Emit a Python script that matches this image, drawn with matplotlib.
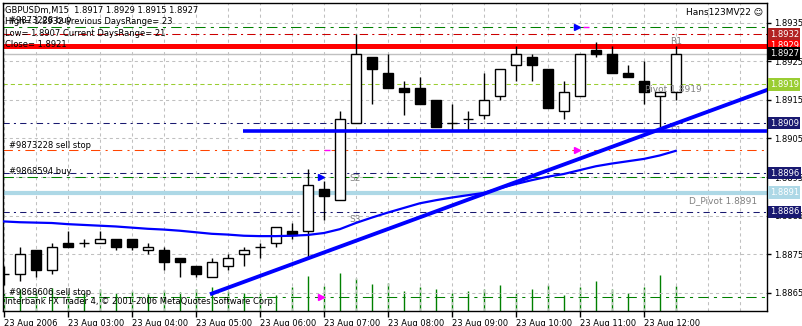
import matplotlib
matplotlib.use('Agg')
import matplotlib.pyplot as plt
from matplotlib.ticker import FormatStrFormatter

plt.rcParams['font.family'] = ['DejaVu Sans']
plt.rcParams['font.size'] = 6

# --- GBPUSDm M15 bars, 23 Aug 2006 02:00 .. 12:30 ---
opens = [1.8870, 1.8870, 1.8876, 1.8871, 1.8878, 1.8878, 1.8878, 1.8879, 1.8879, 1.8876,
         1.8876, 1.8874, 1.8872, 1.8869, 1.8872, 1.8875, 1.8877, 1.8878, 1.8881, 1.8881,
         1.8892, 1.8889, 1.8909, 1.8926, 1.8922, 1.8918, 1.8918, 1.8915, 1.8909, 1.8910,
         1.8911, 1.8916, 1.8924, 1.8926, 1.8923, 1.8912, 1.8916, 1.8928, 1.8927, 1.8922,
         1.8920, 1.8916, 1.8917]
highs = [1.8872, 1.8877, 1.8876, 1.8878, 1.8881, 1.8879, 1.8881, 1.8879, 1.8879, 1.8878,
         1.8877, 1.8874, 1.8872, 1.8874, 1.8875, 1.8877, 1.8878, 1.8882, 1.8883, 1.8897,
         1.8894, 1.8912, 1.8932, 1.8926, 1.8927, 1.8920, 1.8921, 1.8915, 1.8914, 1.8912,
         1.8922, 1.8923, 1.8929, 1.8927, 1.8923, 1.8920, 1.8927, 1.8930, 1.8929, 1.8924,
         1.8925, 1.8917, 1.8929]
lows = [1.8867, 1.8868, 1.8869, 1.8870, 1.8877, 1.8877, 1.8878, 1.8876, 1.8876, 1.8875,
        1.8871, 1.8869, 1.8869, 1.8869, 1.8871, 1.8872, 1.8874, 1.8877, 1.8879, 1.8874,
        1.8884, 1.8889, 1.8909, 1.8914, 1.8918, 1.8911, 1.8914, 1.8908, 1.8907, 1.8907,
        1.8910, 1.8915, 1.8920, 1.8920, 1.8913, 1.8910, 1.8916, 1.8926, 1.8922, 1.8921,
        1.8914, 1.8908, 1.8915]
closes = [1.8870, 1.8875, 1.8871, 1.8877, 1.8877, 1.8878, 1.8879, 1.8877, 1.8877, 1.8877,
          1.8873, 1.8873, 1.8870, 1.8873, 1.8874, 1.8876, 1.8877, 1.8882, 1.8880, 1.8893,
          1.8890, 1.8910, 1.8927, 1.8923, 1.8918, 1.8917, 1.8914, 1.8908, 1.8909, 1.8910,
          1.8915, 1.8923, 1.8927, 1.8924, 1.8913, 1.8917, 1.8927, 1.8927, 1.8922, 1.8921,
          1.8917, 1.8917, 1.8927]
volumes = [45, 55, 50, 58, 50, 45, 55, 45, 50, 43, 53, 48, 55, 60, 50, 45, 48, 40, 60, 88,
           63, 95, 83, 68, 70, 50, 60, 55, 45, 50, 55, 65, 45, 55, 65, 40, 60, 75, 55, 45,
           60, 90, 63]
ma_values = [1.88835, 1.88833, 1.88832, 1.88831, 1.88828, 1.88826, 1.88824, 1.88822, 1.88819,
             1.88816, 1.88814, 1.88811, 1.88807, 1.88803, 1.88801, 1.88798, 1.88797, 1.88797,
             1.88798, 1.88800, 1.88805, 1.88815, 1.88831, 1.88845, 1.88858, 1.88870, 1.88882,
             1.88890, 1.88897, 1.88903, 1.88909, 1.88921, 1.88932, 1.88942, 1.88951, 1.88958,
             1.88968, 1.88978, 1.88985, 1.88991, 1.88997, 1.89006, 1.89018]
time_labels = ['23 Aug 2006', '23 Aug 03:00', '23 Aug 04:00', '23 Aug 05:00', '23 Aug 06:00',
               '23 Aug 07:00', '23 Aug 08:00', '23 Aug 09:00', '23 Aug 10:00', '23 Aug 11:00',
               '23 Aug 12:00']
price_ticks = [1.8865, 1.8875, 1.8885, 1.8895, 1.8905, 1.8915, 1.8925, 1.8935]

trend_bars = [13, 42]
trend_prices = [1.88648, 1.89089]
day_low = 1.8907
day_high = 1.8932
close_line = 1.8929
bid = 1.8927
pivot = 1.8919
d_pivot = 1.8891
s2 = 1.8895
order_buy_tp = 1.8934
sell_stop_1 = 1.8902
buy_order = 1.8896
sell_stop_2 = 1.8864
level_1909 = 1.8909
level_1886 = 1.8886

# price boxes on the right scale: (price, colour)
price_boxes = [(1.8932, '#B22222'), (1.8929, '#FF0000'), (1.8927, '#000000'),
               (1.8919, '#9ACD32'), (1.8909, '#191970'), (1.8896, '#191970'),
               (1.8891, '#ADD8E6'), (1.8886, '#191970')]

# trade arrows
arrow_bars = [35.8, 35.8, 19.8, 19.8]
arrow_prices = [1.8934, 1.8902, 1.8895, 1.8864]
arrow_colors = ['#0000FF', '#FF00FF', '#0000FF', '#FF00FF']

bars = list(range(len(opens)))

fig = plt.figure(figsize=(8.02, 3.26), dpi=100)
ax = fig.add_axes([3 / 802, 15 / 326, 764 / 802, 308 / 326])
ax2 = ax.twinx()
ax.set_zorder(ax2.get_zorder() + 1)
ax.patch.set_visible(False)

# volumes in the bottom
ax2.vlines(bars, 0, volumes, color='#008000', lw=1)
ax2.set_ylim(0, 770)
ax2.set_axis_off()

ax.set_xlim(-0.05, 47.7)
ax.set_ylim(1.88603, 1.89401)

# grid
ax.set_xticks(range(0, 44, 4))
ax.set_xticklabels(time_labels, ha='left')
ax.set_xticks(range(2, 48, 2), minor=True)
ax.yaxis.tick_right()
ax.set_yticks(price_ticks)
ax.yaxis.set_major_formatter(FormatStrFormatter('%.4f'))
ax.tick_params(axis='x', which='major', length=4, width=1, pad=1.5)
ax.tick_params(axis='x', which='minor', length=0)
ax.tick_params(axis='y', length=3, width=1, pad=2)
ax.grid(True, which='both', axis='x', color='#C0C0C0', lw=0.75, ls=(0, (3, 3)))
ax.grid(True, which='major', axis='y', color='#C0C0C0', lw=0.75, ls=(0, (3, 3)))
for s in ax.spines.values():
    s.set_color('black')
    s.set_linewidth(1)

# level lines
ax.axhline(order_buy_tp, color='#008000', lw=0.75, ls=(0, (10, 5, 3, 5)), zorder=2)
ax.axhline(day_high, color='#CC0000', lw=0.75, ls=(0, (8, 4, 2, 4)), zorder=2)
ax.axhline(close_line, color='#FF0000', lw=3.6, zorder=2)
ax.axhline(bid, color='#C0C0C0', lw=1, zorder=2)
ax.axhline(pivot, color='#9ACD32', lw=0.75, ls=(0, (4, 3)), zorder=2)
ax.axhline(level_1909, color='#191970', lw=0.75, ls=(0, (6, 4, 2, 4)), zorder=2)
ax.axhline(sell_stop_1, color='#FF4500', lw=0.75, ls=(0, (9, 5, 2, 5)), zorder=2)
ax.axhline(buy_order, color='#191970', lw=0.75, ls=(0, (6, 4, 2, 4)), zorder=2)
ax.axhline(s2, color='#008000', lw=0.75, ls=(0, (10, 5, 3, 5)), zorder=2)
ax.axhline(d_pivot, color='#ADD8E6', lw=3, zorder=2)
ax.axhline(level_1886, color='#191970', lw=0.75, ls=(0, (6, 4, 2, 4)), zorder=2)
ax.axhline(sell_stop_2, color='#008000', lw=0.75, ls=(0, (10, 5, 3, 5)), zorder=2)

# candles
for i in bars:
    o, h, l, c = opens[i], highs[i], lows[i], closes[i]
    ax.vlines(i, l, h, color='black', lw=1, zorder=4)
    if abs(o - c) < 1e-6:
        ax.hlines(o, i - 0.33, i + 0.33, color='black', lw=1, zorder=5)
    else:
        ax.bar(i, abs(c - o), bottom=min(o, c), width=0.64,
               facecolor='white' if c > o else 'black', edgecolor='black', lw=1, zorder=5)

# moving average, trend ray, low line
ax.plot(bars, ma_values, color='#0000FF', lw=1.6, zorder=6)
slope = (trend_prices[1] - trend_prices[0]) / (trend_bars[1] - trend_bars[0])
ax.plot([trend_bars[0], 48], [trend_prices[0], trend_prices[0] + slope * (48 - trend_bars[0])],
        color='#0000FF', lw=2.8, zorder=6)
ax.hlines(day_low, 14.95, 48, color='#0000FF', lw=2.6, zorder=6)

# trade arrows
for k, p, col in zip(arrow_bars, arrow_prices, arrow_colors):
    ax.plot(k, p, marker='>', ms=4, color=col, zorder=7)
ax.hlines(1.8934, 36.2, 36.6, color='#FF00FF', lw=1, zorder=7)
ax.hlines(1.8902, 20.0, 20.4, color='#FF00FF', lw=1, zorder=7)

# right scale boxes
ytr = ax.get_yaxis_transform()
for p, col in price_boxes:
    ax.text(1.0035, p, '%.4f' % p, transform=ytr, color='white', ha='left', va='center',
            bbox=dict(boxstyle='square,pad=0.2', fc=col, ec='none'), clip_on=False, zorder=10)

# chart labels
grey = '#808080'
ax.text(42, 1.8929, 'R1', color=grey, ha='center', va='bottom', fontsize=6.5, zorder=3)
ax.text(42, 1.8907, 'S1', color=grey, ha='center', va='center', fontsize=6.5, zorder=3)
ax.text(21.6, 1.88945, 'S2', color=grey, ha='left', va='center', fontsize=6.5, zorder=3)
ax.text(21.6, 1.88841, 'S3', color=grey, ha='left', va='center', fontsize=6.5, zorder=3)
ax.text(40.1, 1.89177, 'Pivot 1.8919', color=grey, ha='left', va='center', fontsize=6.5, zorder=7)
ax.text(47.1, 1.88889, 'D_Pivot 1.8891', color=grey, ha='right', va='center', fontsize=6.5)

ax.text(0.3, 1.89033, '#9873228 sell stop', ha='left', va='center', zorder=8)
ax.text(0.3, 1.88964, '#9868594 buy', ha='left', va='center', zorder=8)
ax.text(0.3, 1.88651, '#9868606 sell stop', ha='left', va='center', zorder=8)
ax.text(0.3, 1.89355, '#9873228 buy', ha='left', va='center', zorder=8)

fig.text(5 / 802, 1 - 10 / 326, 'GBPUSDm,M15  1.8917 1.8929 1.8915 1.8927', va='center')
fig.text(5 / 802, 1 - 21 / 326, 'High= 1.8932 Previous DaysRange= 23', va='center')
fig.text(5 / 802, 1 - 33 / 326, 'Low= 1.8907 Current DaysRange= 21', va='center')
fig.text(5 / 802, 1 - 44.5 / 326, 'Close= 1.8921', va='center')
fig.text(763 / 802, 1 - 12 / 326, 'Hans123MV22 \u263A', ha='right', va='center', fontsize=6.5)
fig.text(5 / 802, 1 - 301 / 326,
         'Interbank FX Trader 4, \u00A9 2001-2006 MetaQuotes Software Corp.', va='center')

fig.savefig('out.png', dpi=100)
